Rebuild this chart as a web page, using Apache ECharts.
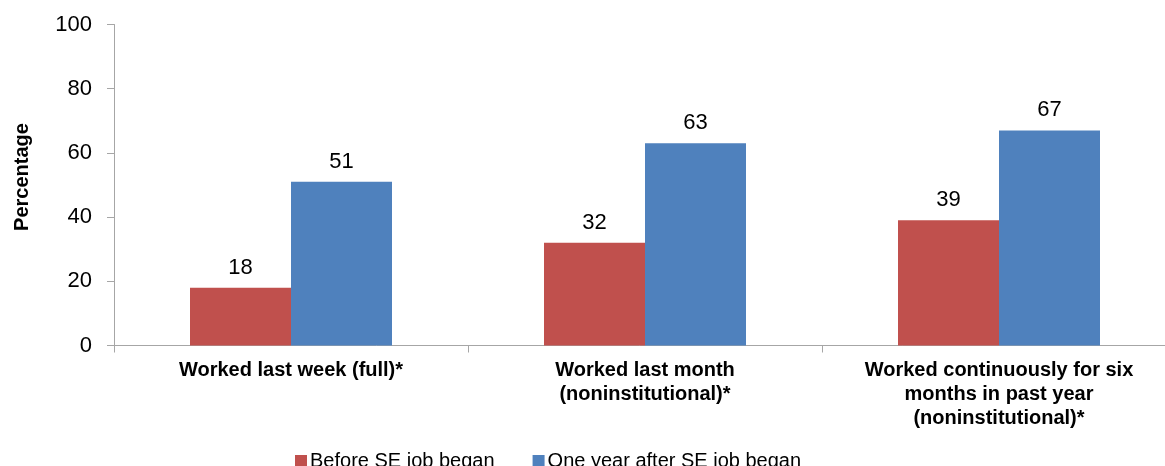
<!DOCTYPE html>
<html>
<head>
<meta charset="utf-8">
<script src="https://cdn.jsdelivr.net/npm/echarts@6/dist/echarts.min.js"></script>
<style>
  html, body { margin: 0; padding: 0; background: #fff; }
  #chart { width: 1165px; height: 466px; }
</style>
</head>
<body>
<div id="chart"></div>
<script>
const categories = [
  'Worked last week (full)*',
  'Worked last month\n(noninstitutional)*',
  'Worked continuously for six\nmonths in past year\n(noninstitutional)*'
]
const beforeValues = [18, 32, 39]
const afterValues = [51, 63, 67]
const seriesNames = ['Before SE job began', 'One year after SE job began']

const font = '"Liberation Sans", Arial, sans-serif'
const axisGray = '#a6a6a6'

const chart = echarts.init(document.getElementById('chart'))

chart.setOption({
  animation: false,
  textStyle: { fontFamily: font },
  grid: {
    left: 114,
    top: 24.5,
    width: 1062,
    height: 321,
    containLabel: false,
    outerBoundsMode: 'none'
  },
  legend: {
    top: 446,
    left: 290,
    itemWidth: 12,
    itemHeight: 12,
    itemGap: 38,
    icon: 'rect',
    textStyle: { color: '#000', fontSize: 20, fontFamily: font, padding: [0, 0, 0, -2] }
  },
  xAxis: {
    type: 'category',
    data: categories,
    axisLine: { lineStyle: { color: axisGray, width: 1 } },
    axisTick: { show: true, length: 7, lineStyle: { color: axisGray } },
    axisLabel: {
      color: '#000',
      fontSize: 20,
      fontWeight: 'bold',
      lineHeight: 24,
      margin: 13,
      interval: 0
    }
  },
  yAxis: {
    type: 'value',
    min: 0,
    max: 100,
    interval: 20,
    name: 'Percentage',
    nameLocation: 'middle',
    nameGap: 82,
    nameTextStyle: { color: '#000', fontSize: 20, fontWeight: 'bold', padding: [0, 0, 0, 16] },
    axisLine: { show: true, lineStyle: { color: axisGray, width: 1 } },
    axisTick: { show: true, length: 7, lineStyle: { color: axisGray } },
    splitLine: { show: false },
    axisLabel: { color: '#000', fontSize: 22, margin: 22 }
  },
  series: [
    {
      name: seriesNames[0],
      type: 'bar',
      data: beforeValues,
      barWidth: 101,
      barGap: '0%',
      itemStyle: { color: '#C0504D' },
      label: { show: true, position: 'top', distance: 9, color: '#000', fontSize: 22 }
    },
    {
      name: seriesNames[1],
      type: 'bar',
      data: afterValues,
      barWidth: 101,
      barGap: '0%',
      itemStyle: { color: '#4F81BD' },
      label: { show: true, position: 'top', distance: 9, color: '#000', fontSize: 22 }
    }
  ]
})
</script>
</body>
</html>
